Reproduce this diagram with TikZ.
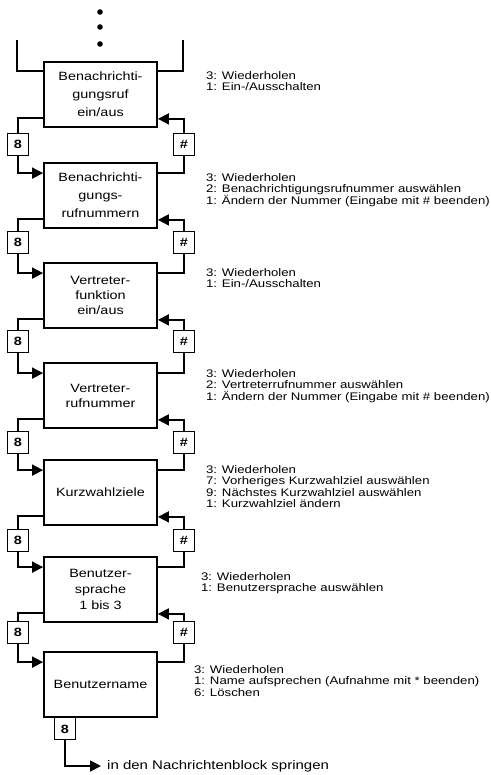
\documentclass[tikz,border=0pt]{standalone}
\usepackage{fontspec}
\setmainfont{Liberation Sans}[FakeStretch=1.2]
\usetikzlibrary{positioning,calc,arrows.meta}

\tikzset{
  menu/.style={draw, line width=1.8pt, minimum width=113pt, minimum height=65pt,
    inner sep=0pt, align=center, font=\fontsize{12}{15}\selectfont},
  key/.style={draw, line width=0.9pt, minimum width=21pt, minimum height=22pt,
    inner sep=0pt, font=\fontsize{12}{12}\selectfont\bfseries},
  info/.style={anchor=north west, inner sep=0pt, align=left,
    font=\fontsize{11}{11.5}\selectfont},
  wire/.style={line width=1.7pt},
  go/.style={wire, -{Triangle[length=11pt,width=11pt]}},
}

\begin{document}
\begin{tikzpicture}[x=1pt, y=-1pt, on grid]
  \useasboundingbox (0,0) rectangle (490,775);

  % more menu entries above
  \fill (100,12) circle (2.8pt);
  \fill (100,27) circle (2.8pt);
  \fill (100,44) circle (2.8pt);

  \node[menu, font=\fontsize{12}{18}\selectfont] (notify) at (100.5,94.5) {Benachrichti-\\gungsruf\\ein/aus};
  \node[menu, font=\fontsize{12}{18}\selectfont] (notifynr) [below=101pt of notify] {Benachrichti-\\gungs-\\rufnummern};
  \node[menu] (deputy) [below=100pt of notifynr] {Vertreter-\\funktion\\ein/aus};
  \node[menu] (deputynr) [below=100pt of deputy] {Vertreter-\\rufnummer};
  \node[menu] (speed) [below=97pt of deputynr] {Kurzwahlziele};
  \node[menu, font=\fontsize{12}{16}\selectfont] (lang) [below=97pt of speed] {Benutzer-\\sprache\\1 bis 3};
  \node[menu] (uname) [below=95pt of lang] {Benutzername};

  % keys between the entries
  \node[key] (eight1) [below=49.5pt of notify, xshift=-82.5pt] {8};
  \node[key] (hash1) [below=49.5pt of notify, xshift=83.5pt] {\#};
  \node[key] (eight2) [below=46.5pt of notifynr, xshift=-82.5pt] {8};
  \node[key] (hash2) [below=46.5pt of notifynr, xshift=83.5pt] {\#};
  \node[key] (eight3) [below=45.5pt of deputy, xshift=-82.5pt] {8};
  \node[key] (hash3) [below=45.5pt of deputy, xshift=83.5pt] {\#};
  \node[key] (eight4) [below=46.5pt of deputynr, xshift=-82.5pt] {8};
  \node[key] (hash4) [below=46.5pt of deputynr, xshift=83.5pt] {\#};
  \node[key] (eight5) [below=47.5pt of speed, xshift=-82.5pt] {8};
  \node[key] (hash5) [below=47.5pt of speed, xshift=83.5pt] {\#};
  \node[key] (eight6) [below=43pt of lang, xshift=-82.5pt] {8};
  \node[key] (hash6) [below=43pt of lang, xshift=83.5pt] {\#};
  \node[key] (eight7) at ($(uname.south)+(-35.5,11)$) {8};

  % what the other keys do
  \node[info] (notifyinfo) at ($(notify.north east)+(48,10)$) {3: Wiederholen\\1: Ein-/Ausschalten};
  \node[info] (notifynrinfo) at ($(notifynr.north east)+(48,11)$) {3: Wiederholen\\2: Benachrichtigungsrufnummer auswählen\\1: Ändern der Nummer (Eingabe mit \# beenden)};
  \node[info] (deputyinfo) at ($(deputy.north east)+(48,6)$) {3: Wiederholen\\1: Ein-/Ausschalten};
  \node[info] (deputynrinfo) at ($(deputynr.north east)+(48,7)$) {3: Wiederholen\\2: Vertreterrufnummer auswählen\\1: Ändern der Nummer (Eingabe mit \# beenden)};
  \node[info] (speedinfo) at ($(speed.north east)+(48,6)$) {3: Wiederholen\\7: Vorheriges Kurzwahlziel auswählen\\9: Nächstes Kurzwahlziel auswählen\\1: Kurzwahlziel ändern};
  \node[info] (langinfo) at ($(lang.north east)+(43,16)$) {3: Wiederholen\\1: Benutzersprache auswählen};
  \node[info] (unameinfo) at ($(uname.north east)+(36,14)$) {3: Wiederholen\\1: Name aufsprechen (Aufnahme mit * beenden)\\6: Löschen};

  \node[anchor=west, inner sep=0pt, font=\fontsize{12.5}{14}\selectfont] (jump) at (107,766) {in den Nachrichtenblock springen};

  \coordinate (fromL) at (17,40);
  \coordinate (fromR) at (183,40);
  \draw[wire] (fromL) |- ([yshift=-10pt]notify.north west);
  \draw[wire] (fromR) |- ([yshift=-10pt]notify.north east);

  \draw[wire] ([yshift=10pt]notify.south west) -| (eight1.north);
  \draw[go] (eight1.south) |- ([yshift=-11pt]notifynr.north west);
  \draw[wire] ([yshift=-11pt]notifynr.north east) -| (hash1.south);
  \draw[go] (hash1.north) |- ([yshift=9pt]notify.south east);

  \draw[wire] ([yshift=10pt]notifynr.south west) -| (eight2.north);
  \draw[go] (eight2.south) |- ([yshift=-11pt]deputy.north west);
  \draw[wire] ([yshift=-11pt]deputy.north east) -| (hash2.south);
  \draw[go] (hash2.north) |- ([yshift=9pt]notifynr.south east);

  \draw[wire] ([yshift=10pt]deputy.south west) -| (eight3.north);
  \draw[go] (eight3.south) |- ([yshift=-11pt]deputynr.north west);
  \draw[wire] ([yshift=-11pt]deputynr.north east) -| (hash3.south);
  \draw[go] (hash3.north) |- ([yshift=9pt]deputy.south east);

  \draw[wire] ([yshift=10pt]deputynr.south west) -| (eight4.north);
  \draw[go] (eight4.south) |- ([yshift=-11pt]speed.north west);
  \draw[wire] ([yshift=-11pt]speed.north east) -| (hash4.south);
  \draw[go] (hash4.north) |- ([yshift=9pt]deputynr.south east);

  \draw[wire] ([yshift=10pt]speed.south west) -| (eight5.north);
  \draw[go] (eight5.south) |- ([yshift=-11pt]lang.north west);
  \draw[wire] ([yshift=-11pt]lang.north east) -| (hash5.south);
  \draw[go] (hash5.north) |- ([yshift=9pt]speed.south east);

  \draw[wire] ([yshift=10pt]lang.south west) -| (eight6.north);
  \draw[go] (eight6.south) |- ([yshift=-11pt]uname.north west);
  \draw[wire] ([yshift=-11pt]uname.north east) -| (hash6.south);
  \draw[go] (hash6.north) |- ([yshift=9pt]lang.south east);

  \draw[go, shorten >=6pt] (eight7.south) |- (jump.west);
\end{tikzpicture}
\end{document}
